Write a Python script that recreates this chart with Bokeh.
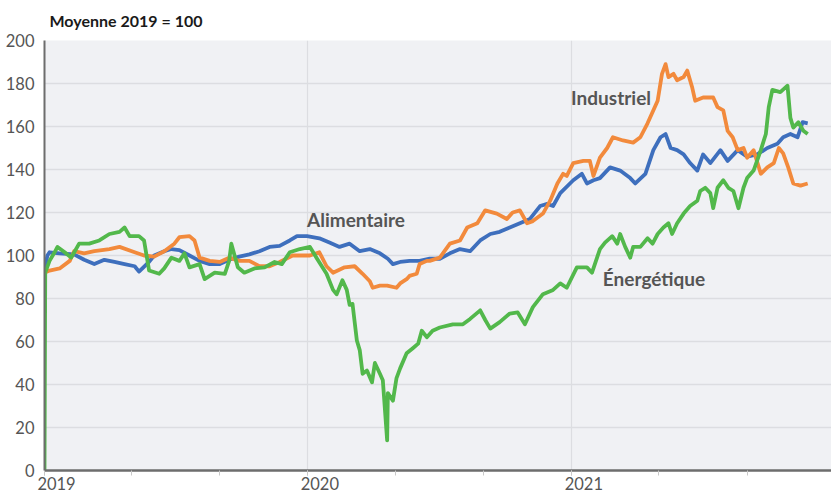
from datetime import datetime, timedelta
from bokeh.plotting import figure
from bokeh.models import FixedTicker, DatetimeTickFormatter, Label, Range1d, DatetimeAxis
from bokeh.embed import file_html
from bokeh.resources import INLINE

# ---------------- data ----------------
alim_dates = ["2019-01-01","2019-01-05","2019-01-08","2019-01-22","2019-02-11","2019-02-25","2019-03-11","2019-03-25",
              "2019-04-08","2019-04-22","2019-05-06","2019-05-12","2019-05-26","2019-06-02","2019-06-16","2019-06-26",
              "2019-07-07","2019-07-21","2019-08-04","2019-08-18","2019-09-01","2019-09-14","2019-09-28","2019-10-12",
              "2019-10-26","2019-11-09","2019-11-23","2019-12-07","2019-12-17","2019-12-31","2020-01-17","2020-01-31",
              "2020-02-14","2020-02-28","2020-03-13","2020-03-27","2020-04-10","2020-04-21","2020-04-28","2020-05-08",
              "2020-05-21","2020-06-04","2020-06-18","2020-07-02","2020-07-16","2020-07-30","2020-08-13","2020-08-27",
              "2020-09-10","2020-09-23","2020-10-07","2020-10-21","2020-11-04","2020-11-18","2020-11-28","2020-12-06",
              "2020-12-16","2021-01-03","2021-01-15","2021-01-22","2021-01-31","2021-02-09","2021-02-23","2021-03-09",
              "2021-03-23","2021-03-30","2021-04-13","2021-04-24","2021-05-04","2021-05-11","2021-05-18","2021-05-27",
              "2021-06-05","2021-06-14","2021-06-24","2021-07-02","2021-07-12","2021-07-26","2021-08-05","2021-08-19",
              "2021-09-01","2021-09-15","2021-09-29","2021-10-13","2021-10-21","2021-10-31","2021-11-10","2021-11-17",
              "2021-11-24"]
alim_values = [93,100,101.5,101,100.5,98,96,98,
               97,96,95,92.5,97,100,102,103,
               102.5,100,97.5,96,96,98,99.5,100.5,
               102,104,104.5,107,109,109,108,106,
               104,105.5,102,103,101,98.5,96,97,
               97.5,97.5,98.5,98.5,101,103,102,107,
               110,111,113,115,117,123,124,123,
               129,135,138,133.5,135,136,141,139.5,
               136,133.5,138,149,155,156.5,150,149,
               147,143,139.5,147,143,149,144,149,
               146,147,150,152,155,156.5,155,162,
               161.5]

indus_dates = ["2019-01-01","2019-01-08","2019-01-22","2019-02-05","2019-02-11","2019-02-25","2019-03-11","2019-04-01",
               "2019-04-15","2019-05-06","2019-05-19","2019-06-02","2019-06-16","2019-06-30","2019-07-07","2019-07-21",
               "2019-07-28","2019-08-04","2019-08-18","2019-09-01","2019-09-14","2019-09-28","2019-10-12","2019-10-26",
               "2019-11-09","2019-11-23","2019-12-11","2019-12-21","2020-01-04","2020-01-17","2020-01-27","2020-02-05",
               "2020-02-21","2020-03-06","2020-03-17","2020-03-27","2020-03-31","2020-04-10","2020-04-20","2020-05-03",
               "2020-05-08","2020-05-17","2020-05-21","2020-05-31","2020-06-04","2020-06-14","2020-06-18","2020-07-02",
               "2020-07-16","2020-07-30","2020-08-09","2020-08-23","2020-09-03","2020-09-19","2020-10-03","2020-10-11",
               "2020-10-21","2020-10-31","2020-11-08","2020-11-22","2020-12-02","2020-12-12","2020-12-20","2020-12-25",
               "2021-01-03","2021-01-17","2021-01-26","2021-01-31","2021-02-09","2021-02-19","2021-02-27","2021-03-13",
               "2021-03-27","2021-04-06","2021-04-16","2021-04-30","2021-05-06","2021-05-11","2021-05-15","2021-05-22",
               "2021-05-27","2021-06-05","2021-06-10","2021-06-17","2021-06-21","2021-07-02","2021-07-16","2021-07-22",
               "2021-07-30","2021-08-05","2021-08-12","2021-08-19","2021-08-27","2021-09-01","2021-09-10","2021-09-20",
               "2021-09-29","2021-10-08","2021-10-15","2021-10-21","2021-10-28","2021-11-04","2021-11-14","2021-11-24"]
indus_values = [92,93,94,97.5,102,101,102,103,
                104,101.5,100,99.5,102,105.5,108.5,109,
                107,99,97.5,97,99,97.5,97.5,95,
                95,97,100,100,100,101.5,95,92,
                94.5,95,91.5,88,85,86,86,85,
                87,89,90.5,91.5,96,97.5,97.5,99,
                105.5,107,113,115,121,119.5,117,120,
                121,115,116,119.5,125.5,133.5,138,137,
                143,144,144,137,145.5,150,155,153.5,
                152.5,155,161.5,172,184.5,189,183,184.5,
                181.5,183,186,178,172,173.5,173.5,169,
                167.5,158,155,149,150,145.5,149,138,
                141,143,150,147.5,141,133.5,132.5,133.5]

energ_dates = ["2019-01-01","2019-01-02","2019-01-08","2019-01-15","2019-01-19","2019-01-29","2019-02-07","2019-02-18",
               "2019-03-04","2019-03-18","2019-04-01","2019-04-15","2019-04-22","2019-04-29","2019-05-12","2019-05-19",
               "2019-05-26","2019-06-09","2019-06-16","2019-06-26","2019-07-07","2019-07-14","2019-07-21","2019-08-04",
               "2019-08-11","2019-08-25","2019-09-08","2019-09-14","2019-09-17","2019-09-26","2019-10-05","2019-10-19",
               "2019-11-02","2019-11-16","2019-11-26","2019-12-07","2019-12-21","2020-01-04","2020-01-13","2020-01-27",
               "2020-02-05","2020-02-10","2020-02-18","2020-02-24","2020-02-28","2020-03-03","2020-03-09","2020-03-13",
               "2020-03-17","2020-03-23","2020-03-30","2020-04-03","2020-04-10","2020-04-14","2020-04-20","2020-04-21",
               "2020-04-28","2020-05-03","2020-05-08","2020-05-17","2020-05-26","2020-06-02","2020-06-07","2020-06-14",
               "2020-06-22","2020-07-02","2020-07-20","2020-08-03","2020-08-13","2020-08-27","2020-09-03","2020-09-10",
               "2020-09-23","2020-10-07","2020-10-18","2020-10-28","2020-11-08","2020-11-22","2020-12-06","2020-12-16",
               "2020-12-25","2021-01-08","2021-01-22","2021-01-29","2021-02-05","2021-02-09","2021-02-16","2021-02-26",
               "2021-03-05","2021-03-09","2021-03-16","2021-03-23","2021-03-27","2021-04-06","2021-04-16","2021-04-23",
               "2021-04-30","2021-05-08","2021-05-15","2021-05-20","2021-05-27","2021-06-05","2021-06-14","2021-06-24",
               "2021-06-28","2021-07-05","2021-07-12","2021-07-16","2021-07-22","2021-07-30","2021-08-06","2021-08-13",
               "2021-08-20","2021-08-27","2021-09-01","2021-09-10","2021-09-20","2021-09-27","2021-10-01","2021-10-06",
               "2021-10-17","2021-10-27","2021-10-31","2021-11-04","2021-11-11","2021-11-18","2021-11-24"]
energ_values = [0,92,97.5,101.5,104,101.5,99,105.5,
                105.5,107,110,111,113,109,109,107,
                93,91.5,94,99,97.5,101,94.5,96,
                89,92,91.5,97.5,105.5,94.5,92,94,
                94.5,97,96,101.5,103,104,99,91.5,
                84,82,88.5,84,77,77.5,60.5,56,
                45,46.5,41,50,45,42,14,36,
                32.5,43,47.5,54.5,57,59,65,62,
                65,66.5,68,68,70.5,74.5,70,66,
                69,73,73.5,68,76,82,84,87,
                85,94.5,94.5,92,99,103,106,109,
                105.5,110,104,99,104,104,108,105.5,
                110,113,115,110,115,119.5,123,125.5,
                130,131.5,129,122,131.5,135,131.5,130,
                122,131.5,136,139.5,149,156.5,169,177,
                176,179,164,159.5,162,158,156.5]

y_ticks = [0, 20, 40, 60, 80, 100, 120, 140, 160, 180, 200]
year_ticks = ["2019-01-01", "2020-01-01", "2021-01-01"]
minor_dates = ["2019-05-01", "2019-09-01", "2020-05-01", "2020-09-01", "2021-05-01", "2021-09-01"]

title_text = "Moyenne 2019 = 100"
series_names = ["Alimentaire", "Industriel", "Énergétique"]

# ---------------- helpers ----------------
def to_dt(lst):
    return [datetime.strptime(d, "%Y-%m-%d") for d in lst]

def to_ms(lst):
    return [datetime.strptime(d, "%Y-%m-%d").timestamp() * 1000 for d in lst]

FONT = "Lato"
TXT = "#555555"
X0 = datetime(2019, 1, 1)
X1 = datetime(2021, 12, 27)
LABEL_SHIFT = timedelta(days=16.7)   # moves the year labels ~12 px right of their tick
YEAR_FMT = DatetimeTickFormatter(years="%Y", months="%Y", days="%Y", hours="%Y",
                                 hourmin="%Y", minutes="%Y", minsec="%Y", seconds="%Y",
                                 milliseconds="%Y", microseconds="%Y")

p = figure(width=831, height=498, x_axis_type="datetime", output_backend="svg",
           toolbar_location=None,
           x_range=Range1d(X0, X1),
           y_range=Range1d(0, 200),
           min_border_left=44, min_border_right=0, min_border_top=40, min_border_bottom=28)

p.background_fill_color = "#F0F1F4"
p.border_fill_color = "white"
p.outline_line_color = None

p.title.text = title_text
p.title.text_font = FONT
p.title.text_font_size = "16px"
p.title.text_font_style = "bold"
p.title.text_color = "#1a1a1a"
p.title.align = "left"
p.title.offset = 5
p.title.vertical_align = "middle"
p.title.text_baseline = "alphabetic"
p.title.standoff = 19

# main x axis: line + ticks, labels not drawn
p.xaxis.ticker = FixedTicker(ticks=to_ms(year_ticks), minor_ticks=to_ms(year_ticks) + to_ms(minor_dates))
p.xaxis.formatter = YEAR_FMT
p.xaxis.axis_line_color = "#6d6d6d"
p.xaxis.axis_line_width = 2.5
p.xaxis.major_tick_in = 0
p.xaxis.major_tick_out = 5
p.xaxis.major_tick_line_color = "#c8c8c8"
p.xaxis.minor_tick_in = 0
p.xaxis.minor_tick_out = 5
p.xaxis.minor_tick_line_color = "#c8c8c8"
p.xaxis.major_label_text_font_size = "1px"
p.xaxis.major_label_text_color = None
p.xaxis.major_label_standoff = 0

# label-only x axis on a slightly shifted range
p.extra_x_ranges = {"labels": Range1d(X0 - LABEL_SHIFT, X1 - LABEL_SHIFT)}
lab_axis = DatetimeAxis(x_range_name="labels",
                        ticker=FixedTicker(ticks=to_ms(year_ticks)),
                        formatter=YEAR_FMT,
                        axis_line_color=None, major_tick_line_color=None, minor_tick_line_color=None,
                        major_tick_in=0, major_tick_out=0, minor_tick_in=0, minor_tick_out=0,
                        major_label_standoff=1,
                        major_label_text_font=FONT, major_label_text_font_size="16.5px",
                        major_label_text_color=TXT)
p.add_layout(lab_axis, "below")

p.yaxis.ticker = FixedTicker(ticks=y_ticks)
p.yaxis.axis_line_color = "#6d6d6d"
p.yaxis.axis_line_width = 2
p.yaxis.major_tick_line_color = None
p.yaxis.minor_tick_line_color = None
p.yaxis.major_tick_in = 0
p.yaxis.major_tick_out = 0
p.yaxis.major_label_text_font = FONT
p.yaxis.major_label_text_font_size = "16.5px"
p.yaxis.major_label_text_color = TXT
p.yaxis.major_label_standoff = 10

p.xgrid.grid_line_color = "#dcdde1"
p.xgrid.grid_line_width = 1.2
p.ygrid.grid_line_color = "#dcdde1"
p.ygrid.grid_line_width = 1.5

# lines
p.line(to_dt(alim_dates), alim_values, line_color="#3e6fbd", line_width=3.8, line_join="round")
p.line(to_dt(indus_dates), indus_values, line_color="#f28a3c", line_width=3.8, line_join="round")
p.line(to_dt(energ_dates), energ_values, line_color="#52b84b", line_width=3.8, line_join="round")

# series labels
for name, d, yv in [(series_names[0], "2019-12-31", 116.7),
                    (series_names[1], "2020-12-31", 173.7),
                    (series_names[2], "2021-02-13", 89.2)]:
    p.add_layout(Label(x=datetime.strptime(d, "%Y-%m-%d"), y=yv, text=name,
                       text_font=FONT, text_font_size="19px", text_font_style="bold",
                       text_color=TXT, text_baseline="alphabetic", text_align="left"))

open("out.html", "w").write(file_html(p, INLINE))
